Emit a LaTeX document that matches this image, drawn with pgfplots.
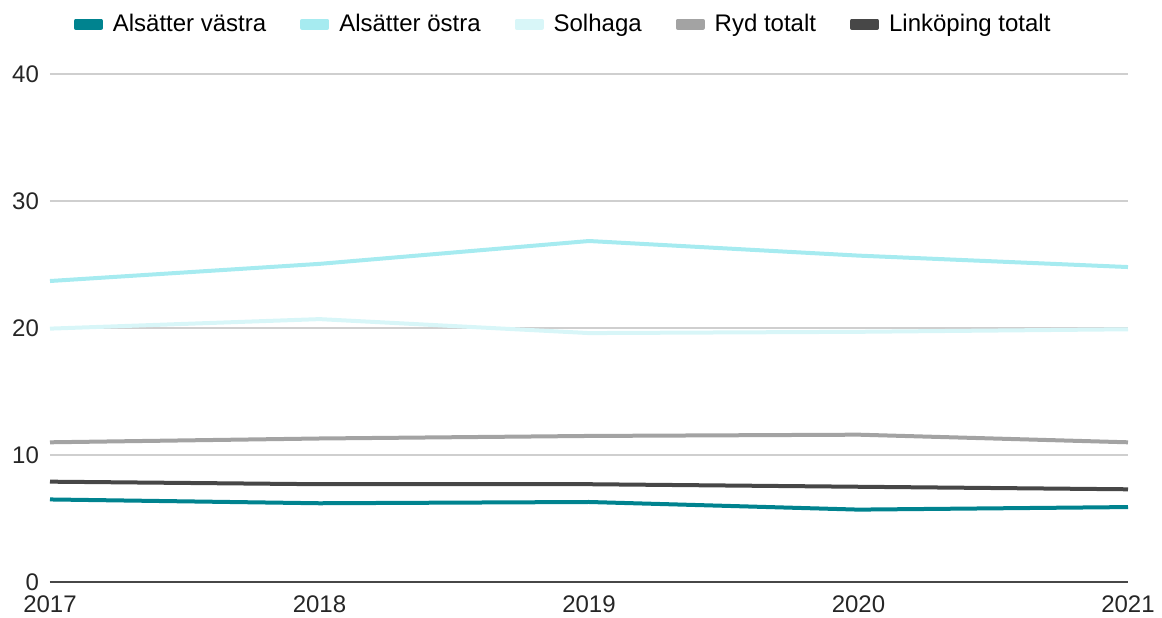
\documentclass[border=0pt]{standalone}
\usepackage{pgfplots}
\pgfplotsset{compat=1.18}
\usepackage{fontspec}
\setmainfont{Liberation Sans}
\definecolor{vastra}{HTML}{00838F}
\definecolor{ostra}{HTML}{A6EBF0}
\definecolor{solhaga}{HTML}{D8F6F8}
\definecolor{ryd}{HTML}{A3A3A3}
\definecolor{lkpg}{HTML}{474747}
\definecolor{gridc}{HTML}{CFCFCF}

\begin{document}
\begin{tikzpicture}
\path[use as bounding box] (-25pt,-17.5pt) rectangle (556pt,291pt);
\begin{axis}[
  scale only axis,
  width=539pt, height=254pt,
  xmin=2017, xmax=2021, ymin=0, ymax=40,
  xtick={2017,2018,2019,2020,2021},
  ytick={0,10,20,30,40},
  xticklabel style={/pgf/number format/1000 sep={}},
  /pgf/number format/assume math mode=true,
  font=\fontsize{12pt}{14pt}\selectfont,
  tick label style={font=\fontsize{12pt}{14pt}\selectfont, text=black!85},
  ymajorgrids, grid style={gridc, line width=0.7pt},
  axis x line*=bottom, axis y line*=left,
  y axis line style={draw=none},
  x axis line style={lkpg, line width=0.8pt, -},
  major tick length=0pt,
  xticklabel shift=3.5pt,
  yticklabel style={anchor=east, xshift=-2pt},
  legend style={draw=none, at={(0.477,1.098)}, anchor=center,
    legend columns=-1, column sep=0pt,
    /tikz/every odd column/.append style={column sep=3pt},
    /tikz/every even column/.append style={column sep=15pt},
    font=\fontsize{12pt}{14pt}\selectfont},
  legend image code/.code={\fill[#1] (0pt,-1.8pt) rectangle (12.5pt,1.8pt);},
  every axis plot/.append style={line width=2pt, line join=round},
  clip=false,
]
\addplot[vastra] coordinates {(2017,6.5) (2018,6.2) (2019,6.3) (2020,5.7) (2021,5.9)};
\addlegendentry{Alsätter västra}
\addplot[ostra] coordinates {(2017,23.7) (2018,25.05) (2019,26.85) (2020,25.7) (2021,24.8)};
\addlegendentry{Alsätter östra}
\addplot[solhaga] coordinates {(2017,19.95) (2018,20.7) (2019,19.6) (2020,19.7) (2021,19.9)};
\addlegendentry{Solhaga}
\addplot[ryd] coordinates {(2017,11.0) (2018,11.3) (2019,11.5) (2020,11.6) (2021,11.0)};
\addlegendentry{Ryd totalt}
\addplot[lkpg] coordinates {(2017,7.9) (2018,7.7) (2019,7.7) (2020,7.5) (2021,7.3)};
\addlegendentry{Linköping totalt}
\end{axis}
\end{tikzpicture}
\end{document}
